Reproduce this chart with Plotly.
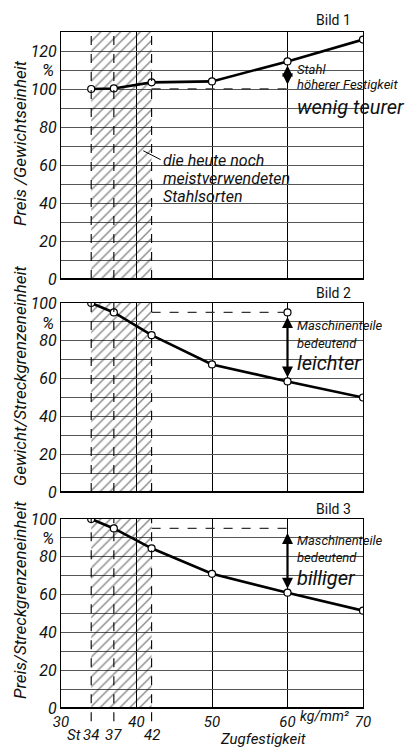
import plotly.graph_objects as go

# ---- data ----
steel_grades = [34, 37, 42, 50, 60, 70]          # Zugfestigkeit kg/mm²
price_per_weight = [100, 100.3, 103.5, 104, 114.5, 126]   # Bild 1
weight_per_yield = [100, 95, 83, 67.5, 58.5, 50]          # Bild 2
price_per_yield = [100, 95, 84.5, 71, 61, 51.5]           # Bild 3
ref_level = [100, 95, 95]
band = [34, 42]
y_tops = [130, 100, 100]
x_ticks = [30, 40, 50, 60, 70]
y_titles = ["Preis /Gewichtseinheit", "Gewicht/Streckgrenzeneinheit", "Preis/Streckgrenzeneinheit"]
bild_labels = ["Bild 1", "Bild 2", "Bild 3"]
notes = [["Stahl", "höherer Festigkeit", "wenig teurer"],
         ["Maschinenteile", "bedeutend", "leichter"],
         ["Maschinenteile", "bedeutend", "billiger"]]
series = [price_per_weight, weight_per_yield, price_per_yield]

W, H = 417, 748
FONT = "Roboto, Liberation Sans Narrow, DejaVu Sans, sans-serif"

def py(p):
    return 1 - p / H

def px(p):
    return p / W

# panel pixel geometry
panels = [(32, 279), (303, 492), (519, 708)]
xl, xr = 61, 363

fig = go.Figure()
layout = dict(width=W, height=H, margin=dict(l=0, r=0, t=0, b=0, autoexpand=False),
              paper_bgcolor="white", plot_bgcolor="white", showlegend=False,
              font=dict(family=FONT, color="#111"))
shapes, annos = [], []

def txt(x, y, text, size, xref="paper", yref="paper", italic=True, xanchor="center", angle=0):
    d = dict(x=x, y=y, xref=xref, yref=yref, text=text, showarrow=False,
             xanchor=xanchor, yanchor="middle", textangle=angle,
             font=dict(size=size, style=("italic" if italic else "normal")))
    annos.append(d)

for i in range(3):
    n = "" if i == 0 else str(i + 1)
    xa, ya = "x" + n, "y" + n
    top = y_tops[i]
    # hatched band
    fig.add_trace(go.Scatter(x=[band[0], band[1], band[1], band[0], band[0]],
                             y=[0, 0, top, top, 0], mode="lines", fill="toself",
                             fillcolor="rgba(0,0,0,0)", line=dict(width=0),
                             fillpattern=dict(shape="/", size=7, solidity=0.2,
                                              fgcolor="#111", bgcolor="rgba(0,0,0,0)"),
                             xaxis=xa, yaxis=ya, hoverinfo="skip"))
    # reference dashed line
    fig.add_trace(go.Scatter(x=[42, 60], y=[ref_level[i], ref_level[i]], mode="lines",
                             line=dict(color="#333", width=1.3, dash="dash"),
                             xaxis=xa, yaxis=ya, hoverinfo="skip"))
    if i == 1:
        fig.add_trace(go.Scatter(x=[60], y=[ref_level[i]], mode="markers",
                                 marker=dict(symbol="circle", size=7, color="white",
                                             line=dict(color="black", width=1.2)),
                                 xaxis=xa, yaxis=ya))
    # data line
    fig.add_trace(go.Scatter(x=steel_grades, y=series[i], mode="lines+markers",
                             line=dict(color="black", width=2.6),
                             marker=dict(symbol="circle", size=7, color="white",
                                         line=dict(color="black", width=1.2)),
                             xaxis=xa, yaxis=ya))
    t, b = panels[i]
    dom_y = [py(b), py(t)]
    yticks = list(range(0, top + 1, 10))
    ytext = [str(v) if v % 20 == 0 else "" for v in yticks]
    layout["xaxis" + n] = dict(domain=[px(xl), px(xr)], range=[30, 70], anchor=ya,
                               tickvals=x_ticks, showgrid=True, gridcolor="black",
                               gridwidth=1, showline=True, mirror=True, linecolor="black",
                               linewidth=1, zeroline=False, ticks="", automargin=False,
                               showticklabels=(i == 2), ticklabelstandoff=0,
                               tickfont=dict(family=FONT, size=15, style="italic"))
    layout["yaxis" + n] = dict(domain=dom_y, range=[0, top], anchor=xa,
                               tickvals=yticks, ticktext=ytext, showgrid=True,
                               gridcolor="#555", gridwidth=0.8, showline=True, mirror=True,
                               linecolor="black", linewidth=1, zeroline=False, ticks="",
                               automargin=False,
                               tickfont=dict(family=FONT, size=16, style="italic"))
    # dashed verticals
    for xv in [34, 37, 42]:
        shapes.append(dict(type="line", xref=xa, yref=ya + " domain", x0=xv, x1=xv,
                           y0=(-0.07 if i == 2 else 0), y1=1,
                           line=dict(color="black", width=1.1, dash="dash")))
    # thick baseline
    shapes.append(dict(type="line", xref=xa + " domain", yref=ya, x0=0, x1=1, y0=0, y1=0,
                       line=dict(color="black", width=2)))
    # arrow
    yv = series[i][4]
    annos.append(dict(x=60, y=yv, ax=60, ay=ref_level[i], xref=xa, yref=ya,
                      axref=xa, ayref=ya, text="", showarrow=True, arrowhead=2,
                      startarrowhead=2, arrowside="end+start", arrowwidth=2.2,
                      arrowsize=1, startarrowsize=1, arrowcolor="black",
                      standoff=4, startstandoff=3))
    # % label
    txt(px(48), py([70, 323, 538][i]), "%", 17)
    # y title
    txt(px(20), py([143, 376, 600][i]), y_titles[i], 17, angle=-90)
    # Bild label
    txt(px(333), py([20, 293, 509][i]), bild_labels[i], 14, italic=False)
    # side notes
    ny = [[110.5, 102.6, 90.5], [88, 78.6, 68.4], [88.4, 79.4, 68.6]][i]
    for k in range(3):
        txt(61.0, ny[k], notes[i][k], (20 if k == 2 else 13), xref=xa, yref=ya,
            xanchor="left")

# Bild 1 band note
for tx, yv in [("die heute noch", 62.6), ("meistverwendeten", 52.8), ("Stahlsorten", 43.2)]:
    txt(43.3, yv, tx, 16, xref="x", yref="y", xanchor="left")
shapes.append(dict(type="line", xref="x", yref="y", x0=40.9, y0=67.5, x1=43.2, y1=62.8,
                   line=dict(color="black", width=1)))

# bottom labels
txt(65, py(716), "kg/mm²", 14, xref="x3")
for tx, xv in [("St", 31.7), ("34", 34), ("37", 37), ("42", 42)]:
    txt(xv, py(735), tx, 15, xref="x3")
txt(56.8, py(739), "Zugfestigkeit", 15, xref="x3")

layout["shapes"] = shapes
layout["annotations"] = annos
fig.update_layout(**layout)
fig.write_html("out.html", config={"displayModeBar": False},
               post_script="document.body.style.margin='0';document.body.style.overflow='hidden';")
